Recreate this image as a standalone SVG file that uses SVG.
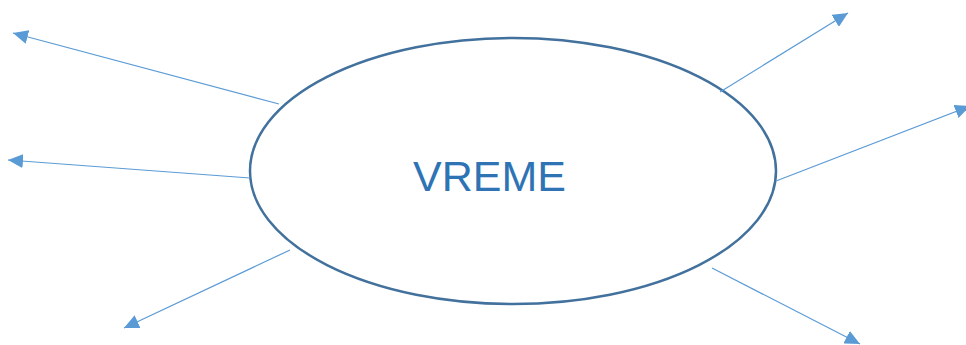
<svg xmlns="http://www.w3.org/2000/svg" width="966" height="345" viewBox="0 0 966 345">
<style>
.c{stroke:#5B9BD5;stroke-width:1.2;fill:none;marker-end:url(#ah)}
.n{fill:#fff;stroke:#41719C;stroke-width:2.5}
.t{font-family:"Liberation Sans",Arial,sans-serif;font-size:43px;fill:#2E74B5}
</style>
<defs>
<marker id="ah" markerUnits="userSpaceOnUse" markerWidth="16" markerHeight="14" refX="15" refY="7" orient="auto">
<path d="M0,0 L15,7 L0,14 Z" fill="#5B9BD5"/>
</marker>
</defs>
<g id="vreme">
<ellipse class="n" cx="513" cy="171" rx="263" ry="133"/>
<text class="t" x="489.5" y="191" text-anchor="middle">VREME</text>
</g>
<g id="connectors">
<line class="c" x1="279" y1="104" x2="13" y2="33"/>
<line class="c" x1="250" y1="178" x2="8" y2="160"/>
<line class="c" x1="290" y1="250" x2="124" y2="328"/>
<line class="c" x1="720" y1="92" x2="848" y2="13"/>
<line class="c" x1="776" y1="181" x2="970" y2="106"/>
<line class="c" x1="712" y1="268" x2="860" y2="344"/>
</g>
</svg>
